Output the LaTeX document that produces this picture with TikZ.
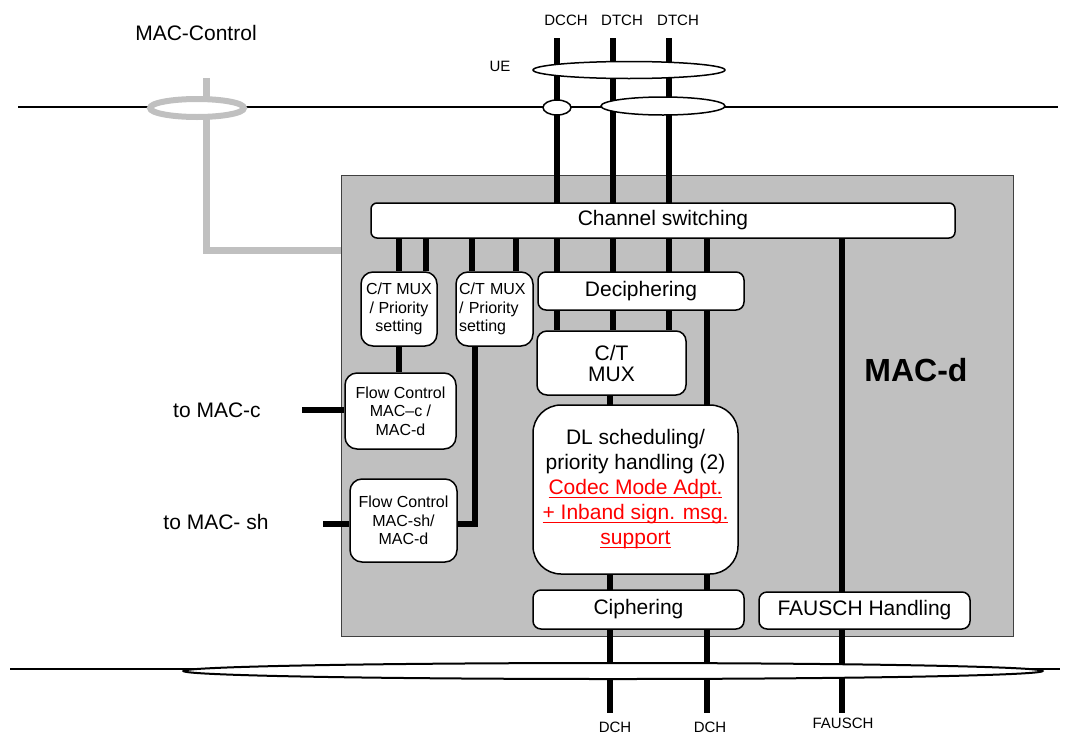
\documentclass[tikz,border=0pt]{standalone}
\usepackage{fontspec}
\setmainfont{Liberation Sans}
\usetikzlibrary{shapes.geometric}
\definecolor{greyfill}{HTML}{C0C0C0}
\definecolor{boxedge}{HTML}{404040}
\definecolor{redtext}{HTML}{FF0000}
\newcommand\myredul[1]{{\color{redtext}\setbox0\hbox{#1}\rlap{\rule[-3.5pt]{\wd0}{1.6pt}}\box0}}
\pgfdeclarelayer{bg}
\pgfdeclarelayer{wires}
\pgfsetlayers{bg,wires,main}
\begin{document}
\begin{tikzpicture}[x=1pt,y=-1pt,
  bus/.style={line width=6pt},
  thinbus/.style={line width=2pt},
  blk/.style={draw, line width=1.5pt, fill=white, rounded corners=8pt, inner sep=0pt, align=center},
  bigtxt/.style={font=\fontsize{21}{25}\selectfont},
  smalltxt/.style={font=\fontsize{16}{18.5}\selectfont},
  lbl/.style={font=\fontsize{15}{18}\selectfont, inner sep=0pt},
  ring/.style={ellipse, draw, line width=1.5pt, fill=white, inner sep=0pt},
]
\useasboundingbox (0,0) rectangle (1075,755);

% ---- MAC-d frame ----
\begin{pgfonlayer}{bg}
\node[draw=boxedge, fill=greyfill, line width=1pt, minimum width=672pt, minimum height=461pt, inner sep=0pt] (macd) at (677,405.5) {};
\end{pgfonlayer}

% ---- labels ----
\node[bigtxt, inner sep=0pt] (macctl) at (196,33) {MAC-Control};
\node[lbl] (ue) at (500,66) {UE};
\node[lbl] (dcch) at (566,20) {DCCH};
\node[lbl] (dtch1) at (622,20) {DTCH};
\node[lbl] (dtch2) at (678,20) {DTCH};
\node[lbl] (dch1) at (615,727) {DCH};
\node[lbl] (dch2) at (710,727) {DCH};
\node[lbl] (fausch) at (843,723) {FAUSCH};
\node[bigtxt, inner sep=0pt] (tomacc) at (217,410) {to MAC-c};
\node[bigtxt, inner sep=0pt] (tomacsh) at (216,522) {to MAC- sh};
\node[font=\fontsize{32}{36}\selectfont\bfseries, inner sep=0pt] (macdlbl) at (916,370) {MAC-d};

% ---- blocks ----
\node[blk, bigtxt, rounded corners=6pt, minimum width=584pt, minimum height=35pt] (cs) at (663,220.5) {Channel switching};
\node[blk, bigtxt, minimum width=206pt, minimum height=38pt] (dec) at (641,291) {Deciphering};
\node[blk, bigtxt, rounded corners=10pt, minimum width=149pt, minimum height=64pt, font=\fontsize{21}{21}\selectfont] (ctm) at (611.5,363) {C/T\\MUX};
\node[blk, bigtxt, rounded corners=28pt, minimum width=205pt, minimum height=169pt] (dl) at (635.5,489.5)
  {DL scheduling/\\priority handling (2)\\\myredul{Codec Mode Adpt.}\\\myredul{+ Inband sign. msg.}\\\myredul{support}};
\node[blk, bigtxt, minimum width=211pt, minimum height=39pt] (ciph) at (638.5,609.5) {Ciphering};
\node[blk, bigtxt, minimum width=211pt, minimum height=37pt] (fau) at (864.5,610.5) {FAUSCH Handling};
\node[blk, smalltxt, rounded corners=12pt, minimum width=76pt, minimum height=74pt] (mux1) at (399,309) {C/T MUX\\/ Priority\\setting};
\node[blk, smalltxt, rounded corners=12pt, minimum width=77pt, minimum height=74pt, align=left, text width=71pt] (mux2) at (494.5,309) {C/T MUX\\/ Priority\\setting};
\node[blk, smalltxt, rounded corners=12pt, minimum width=111pt, minimum height=76pt] (fc1) at (400.5,411) {Flow Control\\MAC--c /\\MAC-d};
\node[blk, smalltxt, rounded corners=12pt, minimum width=107pt, minimum height=83pt] (fc2) at (403.5,520.5) {Flow Control\\MAC-sh/\\MAC-d};

% ---- rings ----
\node[ring, draw=greyfill, line width=6pt, minimum width=94pt, minimum height=18pt] (mcring) at (197,108) {};
\node[ring, minimum width=192pt, minimum height=17pt] (uering) at (629,70) {};
\node[ring, minimum width=28pt, minimum height=15pt] (dcchring) at (557,107.5) {};
\node[ring, minimum width=124pt, minimum height=18pt] (dtchring) at (663,106) {};
\node[ring, line width=2pt, minimum width=859pt, minimum height=16pt] (botring) at (613,671) {};

% ---- coordinates for free ends ----
\coordinate (tl) at (18,107);
\coordinate (tr) at (1058,107);
\coordinate (bl) at (10,669);
\coordinate (br) at (1060,669);
\coordinate (gtop) at (206,78);
\coordinate (gcorner) at (206,250);
\coordinate (v1) at (557,38);
\coordinate (v2) at (613,38);
\coordinate (v3) at (669,38);
\coordinate (sa) at (399,238);
\coordinate (sb) at (426,238);
\coordinate (sc) at (472,238);
\coordinate (sd) at (516,238);
\coordinate (se) at (707,238);
\coordinate (sf) at (842,238);
\coordinate (endy) at (0,713);
\coordinate (k) at (475,524);
\coordinate (toc) at (302,410);
\coordinate (tosh) at (323,524);
\coordinate (x610) at (610,0);

\begin{pgfonlayer}{wires}
\draw[thinbus] (tl) -- (tr);
\draw[thinbus] (bl) -- (br);
\draw[line width=7pt, greyfill] (gtop) -- (gcorner) -- (macd.west |- gcorner);
\draw[bus] (v1) -- (v1 |- ctm.north);
\draw[bus] (v2) -- (v2 |- ctm.north);
\draw[bus] (v3) -- (v3 |- ctm.north);
\draw[bus] (sa) -- (sa |- mux1.north);
\draw[bus] (sb) -- (sb |- mux1.north);
\draw[bus] (sc) -- (sc |- mux2.north);
\draw[bus] (sd) -- (sd |- mux2.north);
\draw[bus] (se) -- (se |- endy);
\draw[bus] (sf) -- (sf |- endy);
\draw[bus] (x610 |- ctm.south) -- (x610 |- endy);
\draw[bus] (mux1.south) -- (mux1.south |- fc1.north);
\draw[bus] (k |- mux2.south) -- (k) -- (fc2.east |- k);
\draw[bus] (toc) -- (toc -| fc1.west);
\draw[bus] (tosh) -- (tosh -| fc2.west);
\end{pgfonlayer}
\end{tikzpicture}
\end{document}
